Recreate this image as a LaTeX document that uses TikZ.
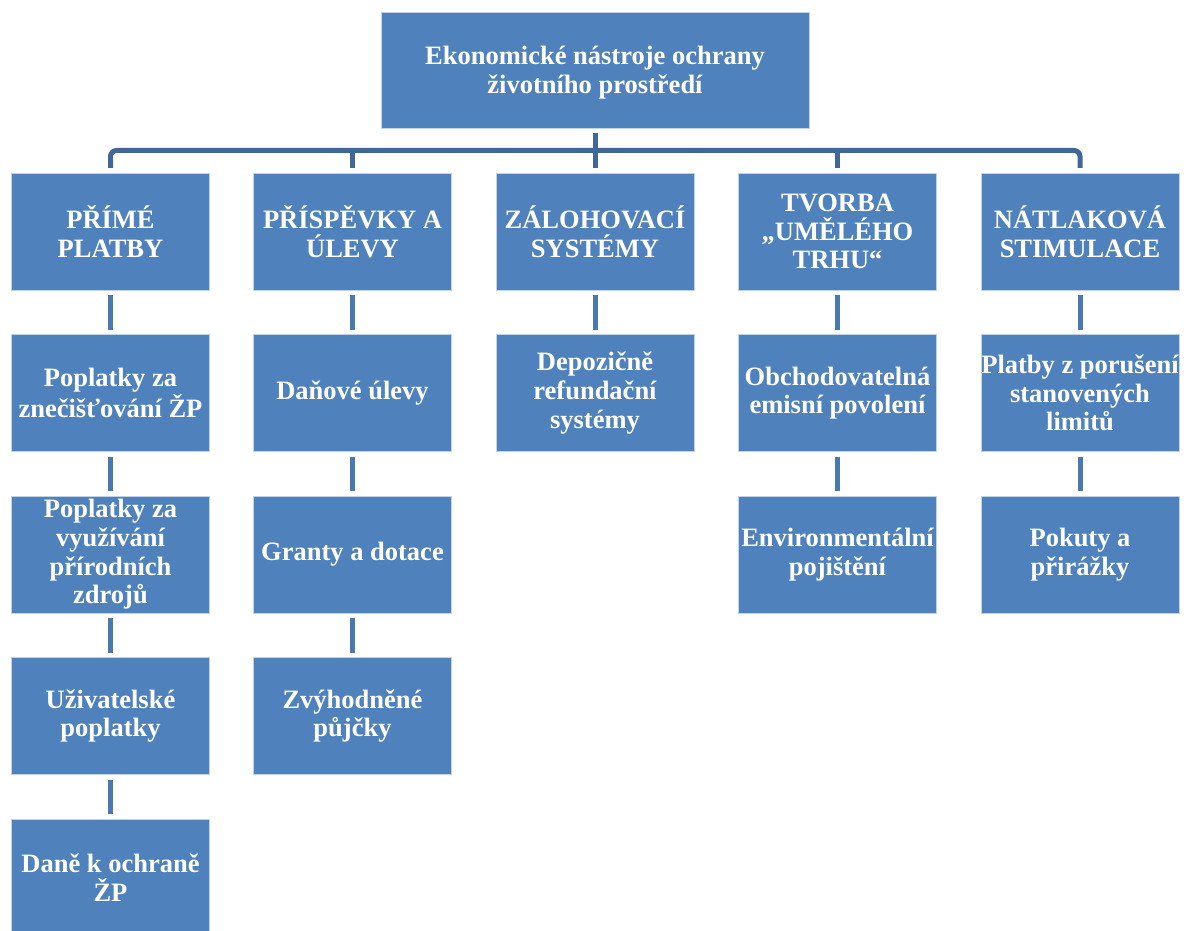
\documentclass[tikz,border=0pt]{standalone}
\usepackage{fontspec}
\setmainfont{Liberation Serif}
\usetikzlibrary{positioning,calc}
\definecolor{boxblue}{RGB}{79,129,189}
\definecolor{barblue}{RGB}{64,103,151}
\definecolor{linkblue}{RGB}{74,121,178}

\begin{document}
\begin{tikzpicture}[every node/.style={font=\fontsize{13.25}{14.3}\selectfont\bfseries, text=white}]
  \tikzstyle{box}=[draw=boxblue!35!white, line width=0.4pt, fill=boxblue, minimum width=99pt, minimum height=58.5pt, inner sep=0pt, outer sep=0pt, align=center]
  \tikzstyle{link}=[draw=linkblue, line width=2.5pt, shorten <=2.5pt, shorten >=2.5pt]
  \tikzstyle{bar}=[draw=barblue, line width=2.5pt]
  \useasboundingbox (0,0) rectangle (597.5pt,-465.5pt);
  \node[box, minimum width=214pt, minimum height=58pt, text depth=-1.5pt] (root) at (297.5pt,-35pt) {Ekonomické nástroje ochrany\\životního prostředí};
  % first level
  \node[box, below=22.5pt of root.south, anchor=north] (deposit) {ZÁLOHOVACÍ\\SYSTÉMY};
  \node[box, left=22.25pt of deposit] (contrib) {PŘÍSPĚVKY A\\ÚLEVY};
  \node[box, left=22pt of contrib] (direct) {PŘÍMÉ\\PLATBY};
  \node[box, right=22.25pt of deposit] (market) {TVORBA\\„UMĚLÉHO\\TRHU“};
  \node[box, right=22.25pt of market] (pressure) {NÁTLAKOVÁ\\STIMULACE};
  % direct payments
  \node[box, below=22.25pt of direct] (direct1) {Poplatky za\\znečišťování ŽP};
  \node[box, below=22.25pt of direct1] (direct2) {Poplatky za\\využívání\\přírodních\\zdrojů};
  \node[box, below=22.25pt of direct2] (direct3) {Uživatelské\\poplatky};
  \node[box, below=22.25pt of direct3] (direct4) {Daně k ochraně\\ŽP};
  % contributions
  \node[box, below=22.25pt of contrib] (contrib1) {Daňové úlevy};
  \node[box, below=22.25pt of contrib1] (contrib2) {Granty a dotace};
  \node[box, below=22.25pt of contrib2] (contrib3) {Zvýhodněné\\půjčky};
  % deposit systems
  \node[box, below=22.25pt of deposit] (deposit1) {Depozičně\\refundační\\systémy};
  % artificial market
  \node[box, below=22.25pt of market] (market1) {Obchodovatelná\\emisní povolení};
  \node[box, below=22.25pt of market1] (market2) {Environmentální\\pojištění};
  % pressure
  \node[box, below=22.25pt of pressure] (pressure1) {Platby z porušení\\stanovených\\limitů};
  \node[box, below=22.25pt of pressure1] (pressure2) {Pokuty a\\přirážky};
  % hierarchy bar
  \coordinate (mid) at ($(root.south)!0.5!(deposit.north)$);
  \draw[bar, rounded corners=3pt] ([yshift=2.5pt]direct.north) |- (mid) -| ([yshift=2.5pt]pressure.north);
  \draw[bar] ([yshift=-2.5pt]root.south) -- ([yshift=2.5pt]deposit.north);
  \draw[bar] ([yshift=2.5pt]contrib.north) -- (contrib.north |- mid);
  \draw[bar] ([yshift=2.5pt]market.north) -- (market.north |- mid);
  % column links
  \draw[link] (direct) -- (direct1);
  \draw[link] (direct1) -- (direct2);
  \draw[link] (direct2) -- (direct3);
  \draw[link] (direct3) -- (direct4);
  \draw[link] (contrib) -- (contrib1);
  \draw[link] (contrib1) -- (contrib2);
  \draw[link] (contrib2) -- (contrib3);
  \draw[link] (deposit) -- (deposit1);
  \draw[link] (market) -- (market1);
  \draw[link] (market1) -- (market2);
  \draw[link] (pressure) -- (pressure1);
  \draw[link] (pressure1) -- (pressure2);
\end{tikzpicture}
\end{document}
